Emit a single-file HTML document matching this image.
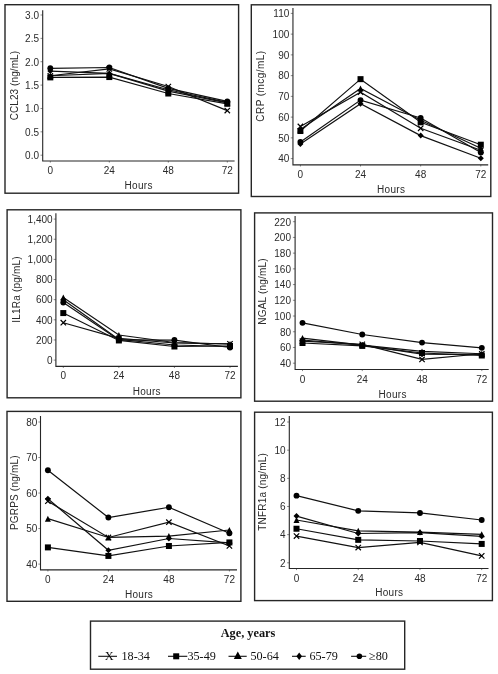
<!DOCTYPE html><html><head><meta charset="utf-8"><style>html,body{margin:0;padding:0;background:#fff;}svg{display:block;will-change:transform;}.t{font-family:"Liberation Sans",sans-serif;font-size:10px;fill:#2b2b2b;}.s{font-family:"Liberation Serif",serif;fill:#111;}</style></head><body>
<svg width="498" height="674" viewBox="0 0 498 674">
<rect x="5" y="4.7" width="233.6" height="188.5" fill="none" stroke="#262626" stroke-width="1.4"/>
<path d="M40.5 155.2H42.7" stroke="#8a8a8a" stroke-width="1"/>
<text class="t" text-anchor="end" transform="translate(39 159) scale(1 1)">0.0</text>
<path d="M40.5 131.83H42.7" stroke="#8a8a8a" stroke-width="1"/>
<text class="t" text-anchor="end" transform="translate(39 135.63) scale(1 1)">0.5</text>
<path d="M40.5 108.47H42.7" stroke="#8a8a8a" stroke-width="1"/>
<text class="t" text-anchor="end" transform="translate(39 112.27) scale(1 1)">1.0</text>
<path d="M40.5 85.1H42.7" stroke="#8a8a8a" stroke-width="1"/>
<text class="t" text-anchor="end" transform="translate(39 88.9) scale(1 1)">1.5</text>
<path d="M40.5 61.73H42.7" stroke="#8a8a8a" stroke-width="1"/>
<text class="t" text-anchor="end" transform="translate(39 65.53) scale(1 1)">2.0</text>
<path d="M40.5 38.37H42.7" stroke="#8a8a8a" stroke-width="1"/>
<text class="t" text-anchor="end" transform="translate(39 42.17) scale(1 1)">2.5</text>
<path d="M40.5 15H42.7" stroke="#8a8a8a" stroke-width="1"/>
<text class="t" text-anchor="end" transform="translate(39 18.8) scale(1 1)">3.0</text>
<path d="M50.3 161V162.6" stroke="#8a8a8a" stroke-width="1"/>
<text class="t" text-anchor="middle" transform="translate(50.3 173.6) scale(1 1)">0</text>
<path d="M109.3 161V162.6" stroke="#8a8a8a" stroke-width="1"/>
<text class="t" text-anchor="middle" transform="translate(109.3 173.6) scale(1 1)">24</text>
<path d="M168.3 161V162.6" stroke="#8a8a8a" stroke-width="1"/>
<text class="t" text-anchor="middle" transform="translate(168.3 173.6) scale(1 1)">48</text>
<path d="M227.3 161V162.6" stroke="#8a8a8a" stroke-width="1"/>
<text class="t" text-anchor="middle" transform="translate(227.3 173.6) scale(1 1)">72</text>
<path d="M42.7 10.3V161H234.6" fill="none" stroke="#262626" stroke-width="1.1"/>
<text class="t" text-anchor="middle" letter-spacing="0.3" x="138.65" y="188.5">Hours</text>
<text class="t" text-anchor="middle" letter-spacing="0.09" transform="translate(18 85.6) rotate(-90)">CCL23 (ng/mL)</text>
<polyline points="50.3,75.75 109.3,68.98 168.3,86.5 227.3,110.57" fill="none" stroke="#111" stroke-width="1.2"/>
<polyline points="50.3,77.39 109.3,77.06 168.3,93.51 227.3,103.79" fill="none" stroke="#111" stroke-width="1.2"/>
<polyline points="50.3,75.75 109.3,73.42 168.3,91.18 227.3,102.86" fill="none" stroke="#111" stroke-width="1.2"/>
<polyline points="50.3,71.08 109.3,73.42 168.3,89.77 227.3,102.39" fill="none" stroke="#111" stroke-width="1.2"/>
<polyline points="50.3,68.28 109.3,67.48 168.3,88.37 227.3,101.46" fill="none" stroke="#111" stroke-width="1.2"/>
<path d="M47.6 73.05L53 78.45M53 73.05L47.6 78.45" stroke="#000" stroke-width="1.2" fill="none"/>
<path d="M106.6 66.28L112 71.68M112 66.28L106.6 71.68" stroke="#000" stroke-width="1.2" fill="none"/>
<path d="M165.6 83.8L171 89.2M171 83.8L165.6 89.2" stroke="#000" stroke-width="1.2" fill="none"/>
<path d="M224.6 107.87L230 113.27M230 107.87L224.6 113.27" stroke="#000" stroke-width="1.2" fill="none"/>
<rect x="47.3" y="74.39" width="6" height="6" fill="#000"/>
<rect x="106.3" y="74.06" width="6" height="6" fill="#000"/>
<rect x="165.3" y="90.51" width="6" height="6" fill="#000"/>
<rect x="224.3" y="100.79" width="6" height="6" fill="#000"/>
<path d="M50.3 72.75L53.3 78.75L47.3 78.75Z" fill="#000"/>
<path d="M109.3 70.42L112.3 76.42L106.3 76.42Z" fill="#000"/>
<path d="M168.3 88.18L171.3 94.18L165.3 94.18Z" fill="#000"/>
<path d="M227.3 99.86L230.3 105.86L224.3 105.86Z" fill="#000"/>
<path d="M50.3 68.08L53.3 71.08L50.3 74.08L47.3 71.08Z" fill="#000"/>
<path d="M109.3 70.42L112.3 73.42L109.3 76.42L106.3 73.42Z" fill="#000"/>
<path d="M168.3 86.77L171.3 89.77L168.3 92.77L165.3 89.77Z" fill="#000"/>
<path d="M227.3 99.39L230.3 102.39L227.3 105.39L224.3 102.39Z" fill="#000"/>
<circle cx="50.3" cy="68.28" r="2.94" fill="#000"/>
<circle cx="109.3" cy="67.48" r="2.94" fill="#000"/>
<circle cx="168.3" cy="88.37" r="2.94" fill="#000"/>
<circle cx="227.3" cy="101.46" r="2.94" fill="#000"/>
<rect x="251.3" y="4.8" width="239.5" height="191.7" fill="none" stroke="#262626" stroke-width="1.4"/>
<path d="M290.75 158.6H292.95" stroke="#8a8a8a" stroke-width="1"/>
<text class="t" text-anchor="end" transform="translate(289.3 162.4) scale(1 1)">40</text>
<path d="M290.75 137.86H292.95" stroke="#8a8a8a" stroke-width="1"/>
<text class="t" text-anchor="end" transform="translate(289.3 141.66) scale(1 1)">50</text>
<path d="M290.75 117.11H292.95" stroke="#8a8a8a" stroke-width="1"/>
<text class="t" text-anchor="end" transform="translate(289.3 120.91) scale(1 1)">60</text>
<path d="M290.75 96.37H292.95" stroke="#8a8a8a" stroke-width="1"/>
<text class="t" text-anchor="end" transform="translate(289.3 100.17) scale(1 1)">70</text>
<path d="M290.75 75.63H292.95" stroke="#8a8a8a" stroke-width="1"/>
<text class="t" text-anchor="end" transform="translate(289.3 79.43) scale(1 1)">80</text>
<path d="M290.75 54.89H292.95" stroke="#8a8a8a" stroke-width="1"/>
<text class="t" text-anchor="end" transform="translate(289.3 58.69) scale(1 1)">90</text>
<path d="M290.75 34.14H292.95" stroke="#8a8a8a" stroke-width="1"/>
<text class="t" text-anchor="end" transform="translate(289.3 37.94) scale(1 1)">100</text>
<path d="M290.75 13.4H292.95" stroke="#8a8a8a" stroke-width="1"/>
<text class="t" text-anchor="end" transform="translate(289.3 17.2) scale(1 1)">110</text>
<path d="M300.4 164.9V166.5" stroke="#8a8a8a" stroke-width="1"/>
<text class="t" text-anchor="middle" transform="translate(300.4 178) scale(1 1)">0</text>
<path d="M360.53 164.9V166.5" stroke="#8a8a8a" stroke-width="1"/>
<text class="t" text-anchor="middle" transform="translate(360.53 178) scale(1 1)">24</text>
<path d="M420.67 164.9V166.5" stroke="#8a8a8a" stroke-width="1"/>
<text class="t" text-anchor="middle" transform="translate(420.67 178) scale(1 1)">48</text>
<path d="M480.8 164.9V166.5" stroke="#8a8a8a" stroke-width="1"/>
<text class="t" text-anchor="middle" transform="translate(480.8 178) scale(1 1)">72</text>
<path d="M292.95 8V164.9H488.2" fill="none" stroke="#262626" stroke-width="1.1"/>
<text class="t" text-anchor="middle" letter-spacing="0.3" x="391.15" y="193.3">Hours</text>
<text class="t" text-anchor="middle" letter-spacing="0.43" transform="translate(263.9 86.1) rotate(-90)">CRP (mcg/mL)</text>
<polyline points="300.4,126.45 360.53,92.22 420.67,128.32 480.8,150.3" fill="none" stroke="#111" stroke-width="1.2"/>
<polyline points="300.4,131.01 360.53,79.15 420.67,122.3 480.8,144.7" fill="none" stroke="#111" stroke-width="1.2"/>
<polyline points="300.4,129.56 360.53,88.49 420.67,120.23 480.8,148.23" fill="none" stroke="#111" stroke-width="1.2"/>
<polyline points="300.4,144.08 360.53,103.63 420.67,135.58 480.8,158.19" fill="none" stroke="#111" stroke-width="1.2"/>
<polyline points="300.4,142.01 360.53,100.11 420.67,117.94 480.8,152.58" fill="none" stroke="#111" stroke-width="1.2"/>
<path d="M297.7 123.75L303.1 129.15M303.1 123.75L297.7 129.15" stroke="#000" stroke-width="1.2" fill="none"/>
<path d="M357.83 89.52L363.23 94.92M363.23 89.52L357.83 94.92" stroke="#000" stroke-width="1.2" fill="none"/>
<path d="M417.97 125.62L423.37 131.02M423.37 125.62L417.97 131.02" stroke="#000" stroke-width="1.2" fill="none"/>
<path d="M478.1 147.6L483.5 153M483.5 147.6L478.1 153" stroke="#000" stroke-width="1.2" fill="none"/>
<rect x="297.4" y="128.01" width="6" height="6" fill="#000"/>
<rect x="357.53" y="76.15" width="6" height="6" fill="#000"/>
<rect x="417.67" y="119.3" width="6" height="6" fill="#000"/>
<rect x="477.8" y="141.7" width="6" height="6" fill="#000"/>
<path d="M300.4 126.56L303.4 132.56L297.4 132.56Z" fill="#000"/>
<path d="M360.53 85.49L363.53 91.49L357.53 91.49Z" fill="#000"/>
<path d="M420.67 117.23L423.67 123.23L417.67 123.23Z" fill="#000"/>
<path d="M480.8 145.23L483.8 151.23L477.8 151.23Z" fill="#000"/>
<path d="M300.4 141.08L303.4 144.08L300.4 147.08L297.4 144.08Z" fill="#000"/>
<path d="M360.53 100.63L363.53 103.63L360.53 106.63L357.53 103.63Z" fill="#000"/>
<path d="M420.67 132.58L423.67 135.58L420.67 138.58L417.67 135.58Z" fill="#000"/>
<path d="M480.8 155.19L483.8 158.19L480.8 161.19L477.8 158.19Z" fill="#000"/>
<circle cx="300.4" cy="142.01" r="2.94" fill="#000"/>
<circle cx="360.53" cy="100.11" r="2.94" fill="#000"/>
<circle cx="420.67" cy="117.94" r="2.94" fill="#000"/>
<circle cx="480.8" cy="152.58" r="2.94" fill="#000"/>
<rect x="7.1" y="209.8" width="233.8" height="188" fill="none" stroke="#262626" stroke-width="1.4"/>
<path d="M53.7 360.1H55.9" stroke="#8a8a8a" stroke-width="1"/>
<text class="t" text-anchor="end" transform="translate(52.6 363.9) scale(1 1)">0</text>
<path d="M53.7 339.96H55.9" stroke="#8a8a8a" stroke-width="1"/>
<text class="t" text-anchor="end" transform="translate(52.6 343.76) scale(1 1)">200</text>
<path d="M53.7 319.81H55.9" stroke="#8a8a8a" stroke-width="1"/>
<text class="t" text-anchor="end" transform="translate(52.6 323.61) scale(1 1)">400</text>
<path d="M53.7 299.67H55.9" stroke="#8a8a8a" stroke-width="1"/>
<text class="t" text-anchor="end" transform="translate(52.6 303.47) scale(1 1)">600</text>
<path d="M53.7 279.53H55.9" stroke="#8a8a8a" stroke-width="1"/>
<text class="t" text-anchor="end" transform="translate(52.6 283.33) scale(1 1)">800</text>
<path d="M53.7 259.39H55.9" stroke="#8a8a8a" stroke-width="1"/>
<text class="t" text-anchor="end" transform="translate(52.6 263.19) scale(1 1)">1,000</text>
<path d="M53.7 239.24H55.9" stroke="#8a8a8a" stroke-width="1"/>
<text class="t" text-anchor="end" transform="translate(52.6 243.04) scale(1 1)">1,200</text>
<path d="M53.7 219.1H55.9" stroke="#8a8a8a" stroke-width="1"/>
<text class="t" text-anchor="end" transform="translate(52.6 222.9) scale(1 1)">1,400</text>
<path d="M63.3 366.4V368" stroke="#8a8a8a" stroke-width="1"/>
<text class="t" text-anchor="middle" transform="translate(63.3 379.3) scale(1 1)">0</text>
<path d="M118.87 366.4V368" stroke="#8a8a8a" stroke-width="1"/>
<text class="t" text-anchor="middle" transform="translate(118.87 379.3) scale(1 1)">24</text>
<path d="M174.43 366.4V368" stroke="#8a8a8a" stroke-width="1"/>
<text class="t" text-anchor="middle" transform="translate(174.43 379.3) scale(1 1)">48</text>
<path d="M230 366.4V368" stroke="#8a8a8a" stroke-width="1"/>
<text class="t" text-anchor="middle" transform="translate(230 379.3) scale(1 1)">72</text>
<path d="M55.9 213.3V366.4H237.9" fill="none" stroke="#262626" stroke-width="1.1"/>
<text class="t" text-anchor="middle" letter-spacing="0.3" x="146.75" y="394.5">Hours</text>
<text class="t" text-anchor="middle" letter-spacing="0.2" transform="translate(19.7 289.4) rotate(-90)">IL1Ra (pg/mL)</text>
<polyline points="63.3,322.74 118.87,338.45 174.43,342.98 230,343.78" fill="none" stroke="#111" stroke-width="1.2"/>
<polyline points="63.3,313.07 118.87,340.46 174.43,346.5 230,346" fill="none" stroke="#111" stroke-width="1.2"/>
<polyline points="63.3,297.46 118.87,335.02 174.43,342.48 230,343.99" fill="none" stroke="#111" stroke-width="1.2"/>
<polyline points="63.3,299.67 118.87,339.45 174.43,344.99 230,346.5" fill="none" stroke="#111" stroke-width="1.2"/>
<polyline points="63.3,302.49 118.87,339.96 174.43,340.06 230,347.51" fill="none" stroke="#111" stroke-width="1.2"/>
<path d="M60.6 320.04L66 325.44M66 320.04L60.6 325.44" stroke="#000" stroke-width="1.2" fill="none"/>
<path d="M116.17 335.75L121.57 341.15M121.57 335.75L116.17 341.15" stroke="#000" stroke-width="1.2" fill="none"/>
<path d="M171.73 340.28L177.13 345.68M177.13 340.28L171.73 345.68" stroke="#000" stroke-width="1.2" fill="none"/>
<path d="M227.3 341.08L232.7 346.48M232.7 341.08L227.3 346.48" stroke="#000" stroke-width="1.2" fill="none"/>
<rect x="60.3" y="310.07" width="6" height="6" fill="#000"/>
<rect x="115.87" y="337.46" width="6" height="6" fill="#000"/>
<rect x="171.43" y="343.5" width="6" height="6" fill="#000"/>
<rect x="227" y="343" width="6" height="6" fill="#000"/>
<path d="M63.3 294.46L66.3 300.46L60.3 300.46Z" fill="#000"/>
<path d="M118.87 332.02L121.87 338.02L115.87 338.02Z" fill="#000"/>
<path d="M174.43 339.48L177.43 345.48L171.43 345.48Z" fill="#000"/>
<path d="M230 340.99L233 346.99L227 346.99Z" fill="#000"/>
<path d="M63.3 296.67L66.3 299.67L63.3 302.67L60.3 299.67Z" fill="#000"/>
<path d="M118.87 336.45L121.87 339.45L118.87 342.45L115.87 339.45Z" fill="#000"/>
<path d="M174.43 341.99L177.43 344.99L174.43 347.99L171.43 344.99Z" fill="#000"/>
<path d="M230 343.5L233 346.5L230 349.5L227 346.5Z" fill="#000"/>
<circle cx="63.3" cy="302.49" r="2.94" fill="#000"/>
<circle cx="118.87" cy="339.96" r="2.94" fill="#000"/>
<circle cx="174.43" cy="340.06" r="2.94" fill="#000"/>
<circle cx="230" cy="347.51" r="2.94" fill="#000"/>
<rect x="254.6" y="212.9" width="237.9" height="188.3" fill="none" stroke="#262626" stroke-width="1.4"/>
<path d="M292.9 363.2H295.1" stroke="#8a8a8a" stroke-width="1"/>
<text class="t" text-anchor="end" transform="translate(291 367) scale(1 1)">40</text>
<path d="M292.9 347.48H295.1" stroke="#8a8a8a" stroke-width="1"/>
<text class="t" text-anchor="end" transform="translate(291 351.28) scale(1 1)">60</text>
<path d="M292.9 331.76H295.1" stroke="#8a8a8a" stroke-width="1"/>
<text class="t" text-anchor="end" transform="translate(291 335.56) scale(1 1)">80</text>
<path d="M292.9 316.03H295.1" stroke="#8a8a8a" stroke-width="1"/>
<text class="t" text-anchor="end" transform="translate(291 319.83) scale(1 1)">100</text>
<path d="M292.9 300.31H295.1" stroke="#8a8a8a" stroke-width="1"/>
<text class="t" text-anchor="end" transform="translate(291 304.11) scale(1 1)">120</text>
<path d="M292.9 284.59H295.1" stroke="#8a8a8a" stroke-width="1"/>
<text class="t" text-anchor="end" transform="translate(291 288.39) scale(1 1)">140</text>
<path d="M292.9 268.87H295.1" stroke="#8a8a8a" stroke-width="1"/>
<text class="t" text-anchor="end" transform="translate(291 272.67) scale(1 1)">160</text>
<path d="M292.9 253.14H295.1" stroke="#8a8a8a" stroke-width="1"/>
<text class="t" text-anchor="end" transform="translate(291 256.94) scale(1 1)">180</text>
<path d="M292.9 237.42H295.1" stroke="#8a8a8a" stroke-width="1"/>
<text class="t" text-anchor="end" transform="translate(291 241.22) scale(1 1)">200</text>
<path d="M292.9 221.7H295.1" stroke="#8a8a8a" stroke-width="1"/>
<text class="t" text-anchor="end" transform="translate(291 225.5) scale(1 1)">220</text>
<path d="M302.5 369.5V371.1" stroke="#8a8a8a" stroke-width="1"/>
<text class="t" text-anchor="middle" transform="translate(302.5 383.2) scale(1 1)">0</text>
<path d="M362.27 369.5V371.1" stroke="#8a8a8a" stroke-width="1"/>
<text class="t" text-anchor="middle" transform="translate(362.27 383.2) scale(1 1)">24</text>
<path d="M422.03 369.5V371.1" stroke="#8a8a8a" stroke-width="1"/>
<text class="t" text-anchor="middle" transform="translate(422.03 383.2) scale(1 1)">48</text>
<path d="M481.8 369.5V371.1" stroke="#8a8a8a" stroke-width="1"/>
<text class="t" text-anchor="middle" transform="translate(481.8 383.2) scale(1 1)">72</text>
<path d="M295.1 216V369.5H488.7" fill="none" stroke="#262626" stroke-width="1.1"/>
<text class="t" text-anchor="middle" letter-spacing="0.3" x="392.65" y="397.5">Hours</text>
<text class="t" text-anchor="middle" letter-spacing="0.2" transform="translate(266 291.5) rotate(-90)">NGAL (ng/mL)</text>
<polyline points="302.5,341.19 362.27,344.33 422.03,359.43 481.8,353.77" fill="none" stroke="#111" stroke-width="1.2"/>
<polyline points="302.5,343 362.27,345.91 422.03,352.98 481.8,355.5" fill="none" stroke="#111" stroke-width="1.2"/>
<polyline points="302.5,338.04 362.27,345.12 422.03,351.41 481.8,353.77" fill="none" stroke="#111" stroke-width="1.2"/>
<polyline points="302.5,340.01 362.27,345.12 422.03,354.16 481.8,354.55" fill="none" stroke="#111" stroke-width="1.2"/>
<polyline points="302.5,322.87 362.27,334.51 422.03,342.6 481.8,347.87" fill="none" stroke="#111" stroke-width="1.2"/>
<path d="M299.8 338.49L305.2 343.89M305.2 338.49L299.8 343.89" stroke="#000" stroke-width="1.2" fill="none"/>
<path d="M359.57 341.63L364.97 347.03M364.97 341.63L359.57 347.03" stroke="#000" stroke-width="1.2" fill="none"/>
<path d="M419.33 356.73L424.73 362.13M424.73 356.73L419.33 362.13" stroke="#000" stroke-width="1.2" fill="none"/>
<path d="M479.1 351.07L484.5 356.47M484.5 351.07L479.1 356.47" stroke="#000" stroke-width="1.2" fill="none"/>
<rect x="299.5" y="340" width="6" height="6" fill="#000"/>
<rect x="359.27" y="342.91" width="6" height="6" fill="#000"/>
<rect x="419.03" y="349.98" width="6" height="6" fill="#000"/>
<rect x="478.8" y="352.5" width="6" height="6" fill="#000"/>
<path d="M302.5 335.04L305.5 341.04L299.5 341.04Z" fill="#000"/>
<path d="M362.27 342.12L365.27 348.12L359.27 348.12Z" fill="#000"/>
<path d="M422.03 348.41L425.03 354.41L419.03 354.41Z" fill="#000"/>
<path d="M481.8 350.77L484.8 356.77L478.8 356.77Z" fill="#000"/>
<path d="M302.5 337.01L305.5 340.01L302.5 343.01L299.5 340.01Z" fill="#000"/>
<path d="M362.27 342.12L365.27 345.12L362.27 348.12L359.27 345.12Z" fill="#000"/>
<path d="M422.03 351.16L425.03 354.16L422.03 357.16L419.03 354.16Z" fill="#000"/>
<path d="M481.8 351.55L484.8 354.55L481.8 357.55L478.8 354.55Z" fill="#000"/>
<circle cx="302.5" cy="322.87" r="2.94" fill="#000"/>
<circle cx="362.27" cy="334.51" r="2.94" fill="#000"/>
<circle cx="422.03" cy="342.6" r="2.94" fill="#000"/>
<circle cx="481.8" cy="347.87" r="2.94" fill="#000"/>
<rect x="7" y="411.4" width="233.9" height="189.9" fill="none" stroke="#262626" stroke-width="1.4"/>
<path d="M38.3 564.1H40.5" stroke="#8a8a8a" stroke-width="1"/>
<text class="t" text-anchor="end" transform="translate(37.3 567.9) scale(1 1)">40</text>
<path d="M38.3 528.58H40.5" stroke="#8a8a8a" stroke-width="1"/>
<text class="t" text-anchor="end" transform="translate(37.3 532.38) scale(1 1)">50</text>
<path d="M38.3 493.05H40.5" stroke="#8a8a8a" stroke-width="1"/>
<text class="t" text-anchor="end" transform="translate(37.3 496.85) scale(1 1)">60</text>
<path d="M38.3 457.52H40.5" stroke="#8a8a8a" stroke-width="1"/>
<text class="t" text-anchor="end" transform="translate(37.3 461.32) scale(1 1)">70</text>
<path d="M38.3 422H40.5" stroke="#8a8a8a" stroke-width="1"/>
<text class="t" text-anchor="end" transform="translate(37.3 425.8) scale(1 1)">80</text>
<path d="M47.9 569.9V571.5" stroke="#8a8a8a" stroke-width="1"/>
<text class="t" text-anchor="middle" transform="translate(47.9 583.3) scale(1 1)">0</text>
<path d="M108.4 569.9V571.5" stroke="#8a8a8a" stroke-width="1"/>
<text class="t" text-anchor="middle" transform="translate(108.4 583.3) scale(1 1)">24</text>
<path d="M168.9 569.9V571.5" stroke="#8a8a8a" stroke-width="1"/>
<text class="t" text-anchor="middle" transform="translate(168.9 583.3) scale(1 1)">48</text>
<path d="M229.4 569.9V571.5" stroke="#8a8a8a" stroke-width="1"/>
<text class="t" text-anchor="middle" transform="translate(229.4 583.3) scale(1 1)">72</text>
<path d="M40.5 416V569.9H237" fill="none" stroke="#262626" stroke-width="1.1"/>
<text class="t" text-anchor="middle" letter-spacing="0.3" x="139.05" y="597.8">Hours</text>
<text class="t" text-anchor="middle" letter-spacing="0.2" transform="translate(18 492.7) rotate(-90)">PGRPS (ng/mL)</text>
<polyline points="47.9,501.22 108.4,537.46 168.9,522.18 229.4,545.98" fill="none" stroke="#111" stroke-width="1.2"/>
<polyline points="47.9,547.4 108.4,555.93 168.9,545.98 229.4,542.43" fill="none" stroke="#111" stroke-width="1.2"/>
<polyline points="47.9,518.63 108.4,537.46 168.9,536.04 229.4,530" fill="none" stroke="#111" stroke-width="1.2"/>
<polyline points="47.9,498.73 108.4,550.25 168.9,538.52 229.4,542.78" fill="none" stroke="#111" stroke-width="1.2"/>
<polyline points="47.9,470.31 108.4,517.56 168.9,507.26 229.4,533.19" fill="none" stroke="#111" stroke-width="1.2"/>
<path d="M45.2 498.52L50.6 503.92M50.6 498.52L45.2 503.92" stroke="#000" stroke-width="1.2" fill="none"/>
<path d="M105.7 534.76L111.1 540.16M111.1 534.76L105.7 540.16" stroke="#000" stroke-width="1.2" fill="none"/>
<path d="M166.2 519.48L171.6 524.88M171.6 519.48L166.2 524.88" stroke="#000" stroke-width="1.2" fill="none"/>
<path d="M226.7 543.28L232.1 548.68M232.1 543.28L226.7 548.68" stroke="#000" stroke-width="1.2" fill="none"/>
<rect x="44.9" y="544.4" width="6" height="6" fill="#000"/>
<rect x="105.4" y="552.93" width="6" height="6" fill="#000"/>
<rect x="165.9" y="542.98" width="6" height="6" fill="#000"/>
<rect x="226.4" y="539.43" width="6" height="6" fill="#000"/>
<path d="M47.9 515.63L50.9 521.63L44.9 521.63Z" fill="#000"/>
<path d="M108.4 534.46L111.4 540.46L105.4 540.46Z" fill="#000"/>
<path d="M168.9 533.04L171.9 539.04L165.9 539.04Z" fill="#000"/>
<path d="M229.4 527L232.4 533L226.4 533Z" fill="#000"/>
<path d="M47.9 495.73L50.9 498.73L47.9 501.73L44.9 498.73Z" fill="#000"/>
<path d="M108.4 547.25L111.4 550.25L108.4 553.25L105.4 550.25Z" fill="#000"/>
<path d="M168.9 535.52L171.9 538.52L168.9 541.52L165.9 538.52Z" fill="#000"/>
<path d="M229.4 539.78L232.4 542.78L229.4 545.78L226.4 542.78Z" fill="#000"/>
<circle cx="47.9" cy="470.31" r="2.94" fill="#000"/>
<circle cx="108.4" cy="517.56" r="2.94" fill="#000"/>
<circle cx="168.9" cy="507.26" r="2.94" fill="#000"/>
<circle cx="229.4" cy="533.19" r="2.94" fill="#000"/>
<rect x="254.6" y="412.2" width="237.8" height="188.4" fill="none" stroke="#262626" stroke-width="1.4"/>
<path d="M287.1 562.8H289.3" stroke="#8a8a8a" stroke-width="1"/>
<text class="t" text-anchor="end" transform="translate(285.6 566.6) scale(1 1)">2</text>
<path d="M287.1 534.64H289.3" stroke="#8a8a8a" stroke-width="1"/>
<text class="t" text-anchor="end" transform="translate(285.6 538.44) scale(1 1)">4</text>
<path d="M287.1 506.48H289.3" stroke="#8a8a8a" stroke-width="1"/>
<text class="t" text-anchor="end" transform="translate(285.6 510.28) scale(1 1)">6</text>
<path d="M287.1 478.32H289.3" stroke="#8a8a8a" stroke-width="1"/>
<text class="t" text-anchor="end" transform="translate(285.6 482.12) scale(1 1)">8</text>
<path d="M287.1 450.16H289.3" stroke="#8a8a8a" stroke-width="1"/>
<text class="t" text-anchor="end" transform="translate(285.6 453.96) scale(1 1)">10</text>
<path d="M287.1 422H289.3" stroke="#8a8a8a" stroke-width="1"/>
<text class="t" text-anchor="end" transform="translate(285.6 425.8) scale(1 1)">12</text>
<path d="M296.5 568.5V570.1" stroke="#8a8a8a" stroke-width="1"/>
<text class="t" text-anchor="middle" transform="translate(296.5 581.6) scale(1 1)">0</text>
<path d="M358.23 568.5V570.1" stroke="#8a8a8a" stroke-width="1"/>
<text class="t" text-anchor="middle" transform="translate(358.23 581.6) scale(1 1)">24</text>
<path d="M419.97 568.5V570.1" stroke="#8a8a8a" stroke-width="1"/>
<text class="t" text-anchor="middle" transform="translate(419.97 581.6) scale(1 1)">48</text>
<path d="M481.7 568.5V570.1" stroke="#8a8a8a" stroke-width="1"/>
<text class="t" text-anchor="middle" transform="translate(481.7 581.6) scale(1 1)">72</text>
<path d="M289.3 416V568.5H488.5" fill="none" stroke="#262626" stroke-width="1.1"/>
<text class="t" text-anchor="middle" letter-spacing="0.3" x="389.25" y="596.1">Hours</text>
<text class="t" text-anchor="middle" letter-spacing="0.2" transform="translate(266 491.85) rotate(-90)">TNFR1a (ng/mL)</text>
<polyline points="296.5,536.05 358.23,547.59 419.97,542.38 481.7,555.9" fill="none" stroke="#111" stroke-width="1.2"/>
<polyline points="296.5,528.73 358.23,539.85 419.97,540.98 481.7,543.93" fill="none" stroke="#111" stroke-width="1.2"/>
<polyline points="296.5,520 358.23,530.84 419.97,532.11 481.7,534.36" fill="none" stroke="#111" stroke-width="1.2"/>
<polyline points="296.5,516.05 358.23,533.51 419.97,532.53 481.7,536.33" fill="none" stroke="#111" stroke-width="1.2"/>
<polyline points="296.5,495.64 358.23,510.84 419.97,512.96 481.7,520" fill="none" stroke="#111" stroke-width="1.2"/>
<path d="M293.8 533.35L299.2 538.75M299.2 533.35L293.8 538.75" stroke="#000" stroke-width="1.2" fill="none"/>
<path d="M355.53 544.89L360.93 550.29M360.93 544.89L355.53 550.29" stroke="#000" stroke-width="1.2" fill="none"/>
<path d="M417.27 539.68L422.67 545.08M422.67 539.68L417.27 545.08" stroke="#000" stroke-width="1.2" fill="none"/>
<path d="M479 553.2L484.4 558.6M484.4 553.2L479 558.6" stroke="#000" stroke-width="1.2" fill="none"/>
<rect x="293.5" y="525.73" width="6" height="6" fill="#000"/>
<rect x="355.23" y="536.85" width="6" height="6" fill="#000"/>
<rect x="416.97" y="537.98" width="6" height="6" fill="#000"/>
<rect x="478.7" y="540.93" width="6" height="6" fill="#000"/>
<path d="M296.5 517L299.5 523L293.5 523Z" fill="#000"/>
<path d="M358.23 527.84L361.23 533.84L355.23 533.84Z" fill="#000"/>
<path d="M419.97 529.11L422.97 535.11L416.97 535.11Z" fill="#000"/>
<path d="M481.7 531.36L484.7 537.36L478.7 537.36Z" fill="#000"/>
<path d="M296.5 513.05L299.5 516.05L296.5 519.05L293.5 516.05Z" fill="#000"/>
<path d="M358.23 530.51L361.23 533.51L358.23 536.51L355.23 533.51Z" fill="#000"/>
<path d="M419.97 529.53L422.97 532.53L419.97 535.53L416.97 532.53Z" fill="#000"/>
<path d="M481.7 533.33L484.7 536.33L481.7 539.33L478.7 536.33Z" fill="#000"/>
<circle cx="296.5" cy="495.64" r="2.94" fill="#000"/>
<circle cx="358.23" cy="510.84" r="2.94" fill="#000"/>
<circle cx="419.97" cy="512.96" r="2.94" fill="#000"/>
<circle cx="481.7" cy="520" r="2.94" fill="#000"/>
<rect x="90.5" y="621.1" width="314.2" height="48.1" fill="none" stroke="#262626" stroke-width="1.4"/>
<text class="s" x="248" y="636.8" text-anchor="middle" font-weight="bold" font-size="12.3">Age, years</text>
<path d="M98.3 656.3H117" stroke="#111" stroke-width="1.1"/>
<text class="s" x="109.2" y="659.6" text-anchor="middle" font-size="12.4">X</text>
<text class="s" x="121.5" y="659.8" font-size="12.2">18-34</text>
<path d="M168 656.3H187.3" stroke="#111" stroke-width="1.1"/>
<rect x="173.2" y="653.3" width="6" height="6" fill="#000"/>
<text class="s" x="187.4" y="659.8" font-size="12.2">35-49</text>
<path d="M228.5 656.3H246.7" stroke="#111" stroke-width="1.1"/>
<path d="M237.8 651.5L241.8 659.1L233.8 659.1Z" fill="#000"/>
<text class="s" x="250.4" y="659.8" font-size="12.2">50-64</text>
<path d="M292 656.3H305.7" stroke="#111" stroke-width="1.1"/>
<path d="M299.2 652.5L302 656.3L299.2 660.1L296.4 656.3Z" fill="#000"/>
<text class="s" x="309.4" y="659.8" font-size="12.2">65-79</text>
<path d="M351.1 656.3H366.2" stroke="#111" stroke-width="1.1"/>
<circle cx="359.4" cy="656.3" r="2.8" fill="#000"/>
<text class="s" x="369" y="659.8" font-size="12.2">≥80</text>
</svg></body></html>
